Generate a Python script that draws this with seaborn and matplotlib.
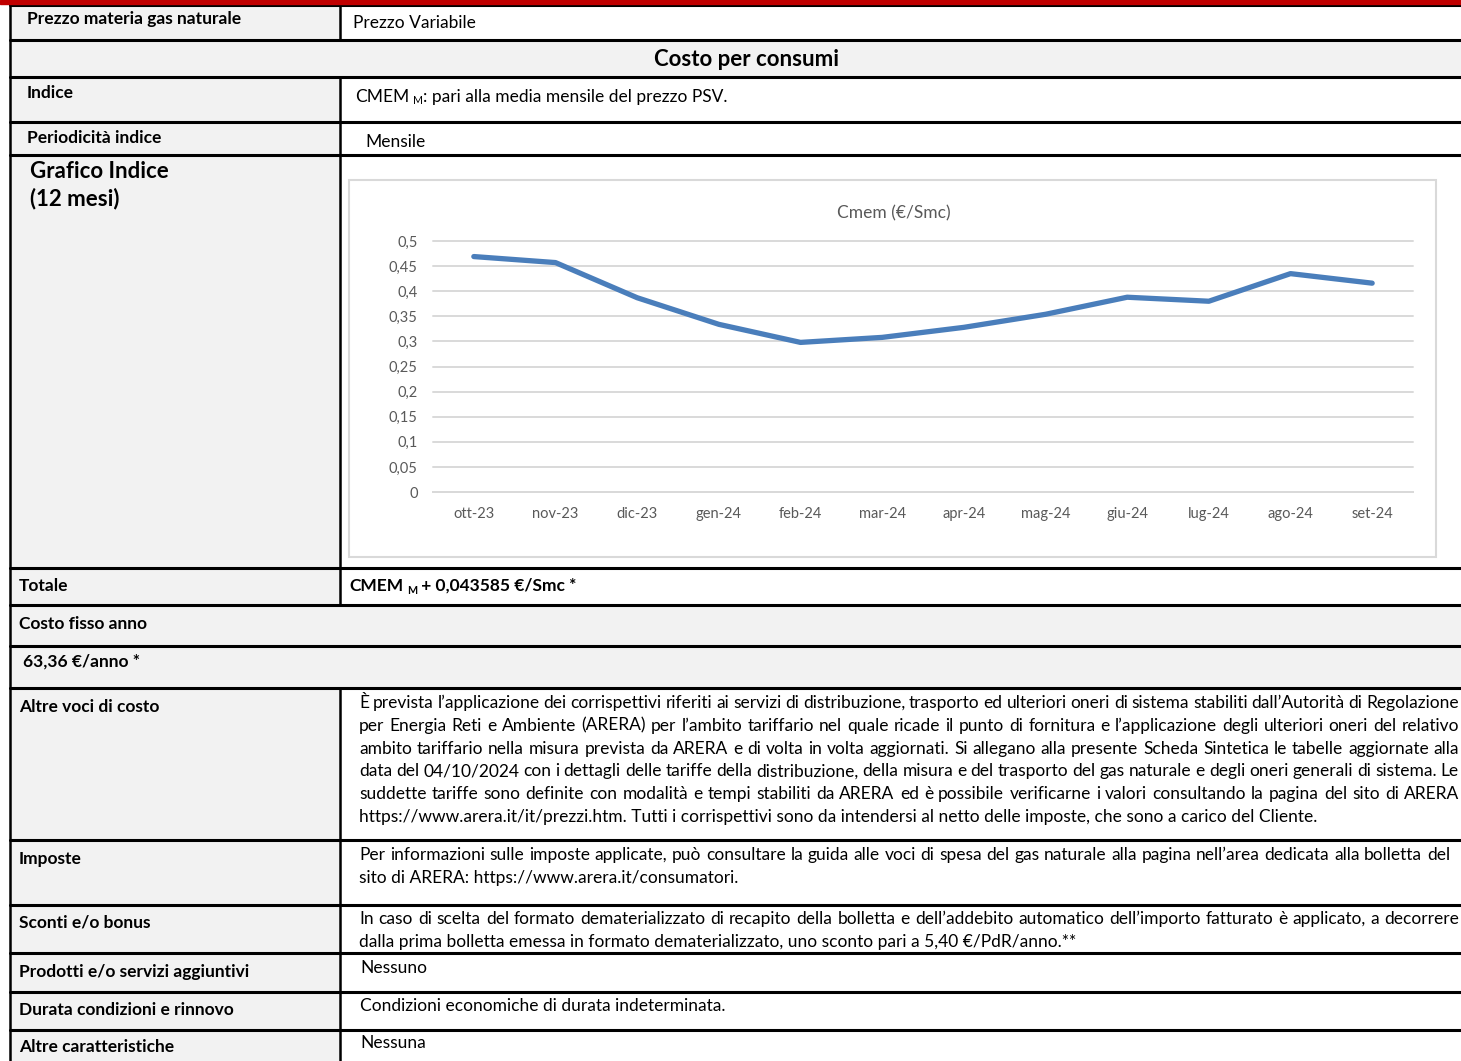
import numpy as np
import pandas as pd
import matplotlib
matplotlib.use("Agg")
import matplotlib.pyplot as plt
import seaborn as sns
from matplotlib.patches import Rectangle

# dati del grafico (lettura dal riferimento)
mesi = ["ott-23", "nov-23", "dic-23", "gen-24", "feb-24", "mar-24",
        "apr-24", "mag-24", "giu-24", "lug-24", "ago-24", "set-24"]
cmem = [0.469, 0.457, 0.387, 0.334, 0.298, 0.308,
        0.328, 0.354, 0.388, 0.380, 0.435, 0.416]
y_ticks = [0, 0.05, 0.1, 0.15, 0.2, 0.25, 0.3, 0.35, 0.4, 0.45, 0.5]
y_tick_labels = ["0", "0,05", "0,1", "0,15", "0,2", "0,25",
                 "0,3", "0,35", "0,4", "0,45", "0,5"]
titolo_grafico = "Cmem (€/Smc)"

altre_voci = [
    "È prevista l’applicazione dei corrispettivi riferiti ai servizi di distribuzione, trasporto ed ulteriori oneri di sistema stabiliti dall’Autorità di Regolazione",
    "per Energia Reti e Ambiente (ARERA) per l’ambito tariffario nel quale ricade il punto di fornitura e l’applicazione degli ulteriori oneri del relativo",
    "ambito tariffario nella misura prevista da ARERA e di volta in volta aggiornati. Si allegano alla presente Scheda Sintetica le tabelle aggiornate alla",
    "data del 04/10/2024 con i dettagli delle tariffe della distribuzione, della misura e del trasporto del gas naturale e degli oneri generali di sistema. Le",
    "suddette tariffe sono definite con modalità e tempi stabiliti da ARERA ed è possibile verificarne i valori consultando la pagina del sito di ARERA",
    "https://www.arera.it/it/prezzi.htm. Tutti i corrispettivi sono da intendersi al netto delle imposte, che sono a carico del Cliente.",
]
imposte = [
    "Per informazioni sulle imposte applicate, può consultare la guida alle voci di spesa del gas naturale alla pagina nell’area dedicata alla bolletta del",
    "sito di ARERA: https://www.arera.it/consumatori.",
]
sconti = [
    "In caso di scelta del formato dematerializzato di recapito della bolletta e dell’addebito automatico dell’importo fatturato è applicato, a decorrere",
    "dalla prima bolletta emessa in formato dematerializzato, uno sconto pari a 5,40 €/PdR/anno.**",
]

W, H = 1461, 1061
GRIGIO = "#F2F2F2"
BODY = 12.5
DY = 2  # piccolo spostamento verticale dei testi

sns.set_style("white")
plt.rcParams["font.family"] = ["Lato", "DejaVu Sans"]

fig = plt.figure(figsize=(W / 100, H / 100), dpi=100)
bg = fig.add_axes([0, 0, 1, 1])
bg.set_xlim(0, W)
bg.set_ylim(H, 0)
bg.axis("off")
renderer = fig.canvas.get_renderer()

# righe della tabella: (alto, basso, tipo)
righe = [(5, 40, "due"), (40, 77, "piena"), (77, 122, "due"), (122, 155, "due"),
         (155, 568, "due"), (568, 605, "due"), (605, 646, "piena"), (646, 688, "piena"),
         (688, 840, "due"), (840, 905, "due"), (905, 953, "due"), (953, 992, "due"),
         (992, 1030, "due"), (1030, H + 5, "due")]
X0, XS = 10, 340

for alto, basso, tipo in righe:
    if tipo == "piena":
        bg.add_patch(Rectangle((X0, alto), W - X0, basso - alto, color=GRIGIO, zorder=0))
    else:
        bg.add_patch(Rectangle((X0, alto), XS - X0, basso - alto, color=GRIGIO, zorder=0))
        bg.plot([XS, XS], [alto, basso], color="black", lw=1.8, zorder=3)
    bg.plot([X0, W], [alto, alto], color="black", lw=2.2, zorder=3)
bg.plot([X0, X0], [5, H], color="black", lw=1.8, zorder=3)
bg.add_patch(Rectangle((0, 0), W, 4, color="#C00000", zorder=4))

# bordo del grafico
bg.add_patch(Rectangle((349, 180), 1436 - 349, 557 - 180, facecolor="white",
                       edgecolor="#D9D9D9", lw=1.5, zorder=1))


def scrivi(x, y, s, size=BODY, bold=False, **kw):
    return bg.text(x, y + DY, s, fontsize=size, fontweight="bold" if bold else "normal",
                   va="center", ha=kw.pop("ha", "left"), color="black", zorder=5, **kw)


def larghezza(s, size=BODY, bold=False):
    t = scrivi(0, 0, s, size, bold)
    w = t.get_window_extent(renderer).width
    t.remove()
    return w


def giustifica(x0, x1, y, s, size=BODY):
    parole = s.split(" ")
    ww = [larghezza(p, size) for p in parole]
    gap = (x1 - x0 - sum(ww)) / (len(parole) - 1)
    x = x0
    for p, w in zip(parole, ww):
        scrivi(x, y, p, size)
        x += w + gap


def con_pedice(x, y, prima, dopo, size=BODY, bold=False):
    scrivi(x, y, prima, size, bold)
    x += larghezza(prima, size, bold) + 4
    scrivi(x, y + 4, "M", size * 0.62, bold)
    x += larghezza("M", size * 0.62, bold)
    scrivi(x, y, dopo, size, bold)


# colonna sinistra
scrivi(27, 17, "Prezzo materia gas naturale", bold=True)
scrivi(747, 58, "Costo per consumi", size=16, bold=True, ha="center")
scrivi(27, 91, "Indice", bold=True)
scrivi(27, 136, "Periodicità indice", bold=True)
scrivi(30, 169, "Grafico Indice", size=16, bold=True)
scrivi(30, 197, "(12 mesi)", size=16, bold=True)
scrivi(19, 584, "Totale", bold=True)
scrivi(19, 622, "Costo fisso anno", bold=True)
scrivi(23, 660, "63,36 €/anno *", bold=True)
scrivi(19, 705, "Altre voci di costo", bold=True)
scrivi(19, 857, "Imposte", bold=True)
scrivi(19, 921, "Sconti e/o bonus", bold=True)
scrivi(19, 970, "Prodotti e/o servizi aggiuntivi", bold=True)
scrivi(19, 1008, "Durata condizioni e rinnovo", bold=True)
scrivi(19, 1045, "Altre caratteristiche", bold=True)

# colonna destra
scrivi(353, 21, "Prezzo Variabile")
con_pedice(355, 95, "CMEM", ": pari alla media mensile del prezzo PSV.")
scrivi(365, 140, "Mensile")
con_pedice(349, 584, "CMEM", " + 0,043585 €/Smc *", bold=True)
for i, riga in enumerate(altre_voci):
    y = 701 + i * 22.8
    if i < len(altre_voci) - 1:
        giustifica(359, 1459, y, riga)
    else:
        scrivi(359, y, riga)
giustifica(359, 1450, 853, imposte[0])
scrivi(359, 876, imposte[1])
giustifica(359, 1459, 917, sconti[0])
scrivi(359, 940, sconti[1])
scrivi(360, 966, "Nessuno")
scrivi(360, 1004, "Condizioni economiche di durata indeterminata.")
scrivi(360, 1041, "Nessuna")

# grafico indice
df = pd.DataFrame({"mese": mesi, "cmem": cmem})
ax = fig.add_axes([433 / W, 1 - 492 / H, (1413 - 433) / W, (492 - 241) / H])
sns.lineplot(data=df, x="mese", y="cmem", ax=ax, sort=False, color="#4A7EBB",
             lw=3.8, solid_capstyle="round", solid_joinstyle="round")
ax.set_xlim(-0.5, 11.5)
ax.set_ylim(0, 0.5)
ax.set_yticks(y_ticks)
ax.set_yticklabels(y_tick_labels)
ax.set_xticks(range(len(mesi)))
ax.set_xticklabels(mesi)
ax.set_xticks(np.arange(-0.5, len(mesi), 1), minor=True)
ax.yaxis.grid(True, color="#D9D9D9", lw=1.4)
for gl in ax.get_ygridlines():
    gl.set_clip_on(False)
ax.set_axisbelow(True)
for lato in ["top", "right", "left"]:
    ax.spines[lato].set_visible(False)
ax.spines["bottom"].set_color("#D9D9D9")
ax.spines["bottom"].set_linewidth(1.4)
ax.tick_params(axis="x", which="major", length=0, pad=11, labelsize=10.5, labelcolor="#595959")
ax.tick_params(axis="x", which="minor", length=5, width=1, color="#D9D9D9")
ax.tick_params(axis="y", length=0, pad=11, labelsize=10.5, labelcolor="#595959")
ax.set_xlabel("")
ax.set_ylabel("")
ax.patch.set_alpha(0)
bg.text(894, 213, titolo_grafico, ha="center", va="center", fontsize=12.5,
        color="#595959", zorder=5)

fig.savefig("out.png", dpi=100)
